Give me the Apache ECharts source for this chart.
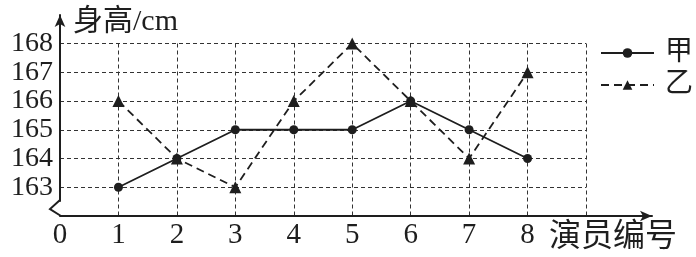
<!DOCTYPE html>
<html><head><meta charset="utf-8">
<script src="https://cdn.jsdelivr.net/npm/echarts@6/dist/echarts.min.js"></script>
<style>html,body{margin:0;padding:0;background:#fff}#c{width:696px;height:257px}</style>
</head><body><div id="c"></div>
<script>
const categories = [1, 2, 3, 4, 5, 6, 7, 8];
const xTickLabels = ['0', '1', '2', '3', '4', '5', '6', '7', '8'];
const yTickLabels = ['163', '164', '165', '166', '167', '168'];
const jia = [163, 164, 165, 165, 165, 166, 165, 164];
const yi = [166, 164, 163, 166, 168, 166, 164, 167];
const seriesNames = ['甲', '乙'];
const yTitle = '身高/cm';
const xTitle = '演员编号';

const SERIF = "'Liberation Serif', 'Noto Sans CJK SC', serif";
const INK = '#1e1e1e';
const chart = echarts.init(document.getElementById('c'), null, {renderer: 'canvas'});

chart.setOption({
  animation: false,
  backgroundColor: '#fff',
  title: {
    text: yTitle, left: 68, top: 2,
    textStyle: {fontFamily: SERIF, fontSize: 30, fontWeight: 'normal', color: INK}
  },
  grid: [
    {left: 60, right: 110, top: 43.5, bottom: 41},
    {left: 60, right: 44, top: 15, bottom: 41},
    {left: 60, right: 44, top: 15, bottom: 56}
  ],
  legend: {
    orient: 'vertical', left: 595, top: 34,
    itemWidth: 53, itemHeight: 12, itemGap: 4,
    textStyle: {fontFamily: SERIF, fontSize: 28, color: INK, padding: [0, 0, 0, 6], lineHeight: 28},
    data: seriesNames
  },
  xAxis: [
    {
      gridIndex: 0, type: 'value', min: 0, max: 9, interval: 1,
      axisLine: {show: false}, axisTick: {show: false},
      axisLabel: {
        margin: 5, fontFamily: SERIF, fontSize: 29, color: INK,
        formatter: v => (v >= 0 && v < xTickLabels.length ? xTickLabels[v] : '')
      },
      splitLine: {show: true, showMinLine: false, showMaxLine: true,
        lineStyle: {color: '#333', width: 1, type: [4, 3]}}
    },
    {
      gridIndex: 1, type: 'value', min: 0, max: 1,
      axisLine: {show: true, symbol: ['none', 'arrow'], symbolSize: [8, 12],
        lineStyle: {color: INK, width: 2}},
      axisTick: {show: false}, axisLabel: {show: false}, splitLine: {show: false},
      name: xTitle, nameLocation: 'end', nameGap: 25,
      nameTextStyle: {fontFamily: SERIF, fontSize: 32, color: INK, align: 'right',
        verticalAlign: 'top', padding: [6, 0, 0, 0]}
    },
    {
      gridIndex: 2, type: 'value', min: 0, max: 1, show: false
    }
  ],
  yAxis: [
    {
      gridIndex: 0, type: 'value', min: 162, max: 168, interval: 1,
      axisLine: {show: false}, axisTick: {show: false},
      axisLabel: {
        margin: 7, fontFamily: SERIF, fontSize: 28, color: INK,
        formatter: v => (yTickLabels.indexOf(String(v)) >= 0 ? String(v) : '')
      },
      splitLine: {show: true, showMinLine: false, showMaxLine: true,
        lineStyle: {color: '#333', width: 1, type: [4, 3]}}
    },
    {
      gridIndex: 1, type: 'value', min: 0, max: 1, show: false
    },
    {
      gridIndex: 2, type: 'value', min: 0, max: 1,
      axisLine: {show: true, onZero: false, symbol: ['none', 'arrow'], symbolSize: [8, 12],
        lineStyle: {color: INK, width: 2}},
      axisTick: {show: false}, axisLabel: {show: false}, splitLine: {show: false}
    }
  ],
  graphic: [{
    type: 'polyline', silent: true,
    shape: {points: [[60, 200], [50, 209], [61, 216]]},
    style: {stroke: INK, lineWidth: 2, fill: null}
  }],
  series: [
    {
      name: seriesNames[0], type: 'line', xAxisIndex: 0, yAxisIndex: 0,
      data: categories.map((c, i) => [c, jia[i]]),
      symbol: 'circle', symbolSize: 9,
      lineStyle: {color: INK, width: 1.8, type: 'solid'},
      itemStyle: {color: INK},
      z: 5
    },
    {
      name: seriesNames[1], type: 'line', xAxisIndex: 0, yAxisIndex: 0,
      data: categories.map((c, i) => [c, yi[i]]),
      symbol: 'triangle', symbolSize: 12,
      lineStyle: {color: INK, width: 1.8, type: [8, 5]},
      itemStyle: {color: INK},
      z: 5
    }
  ]
});
</script>
</body></html>
